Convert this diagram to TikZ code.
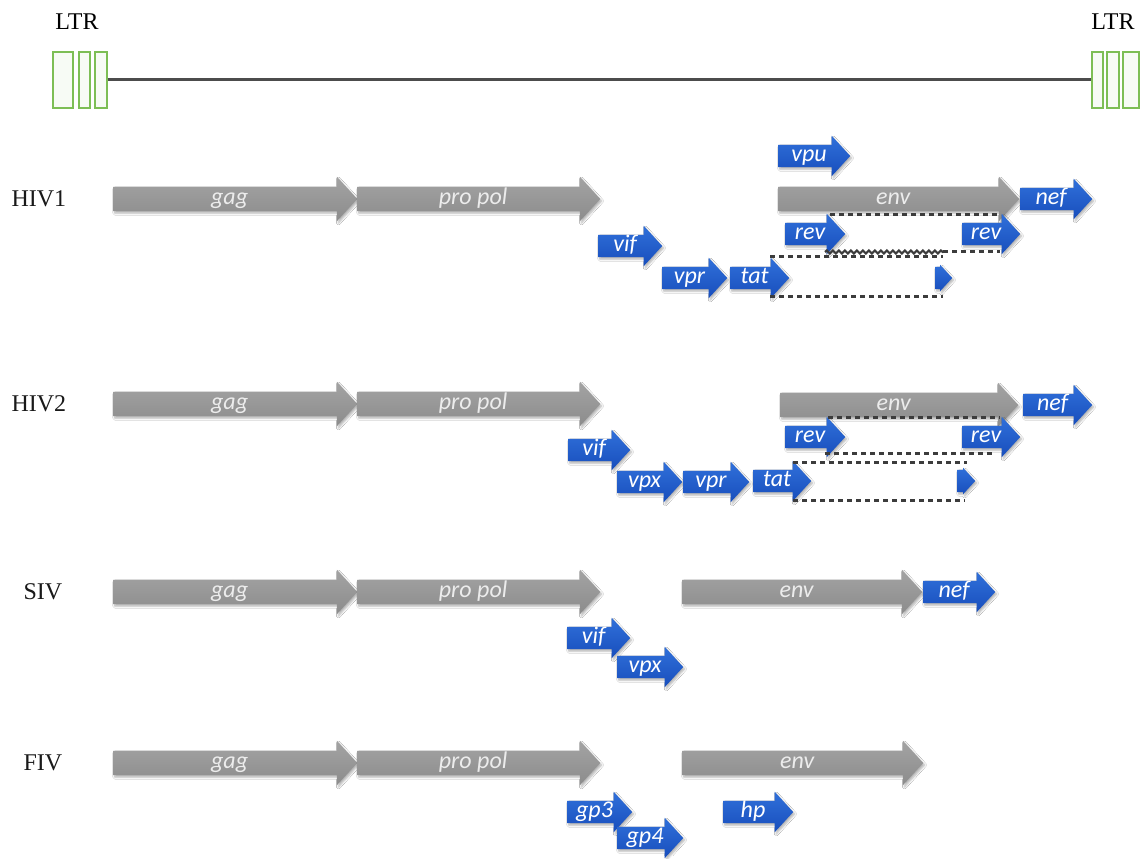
\documentclass[tikz,border=0pt]{standalone}
\usepackage{fontspec}
\setmainfont{Liberation Serif}
\newfontfamily\carlito{Carlito}
\usepackage{tikz}
\usetikzlibrary{shapes.arrows, shadows.blur, decorations.pathmorphing}
\definecolor{geneGrayTop}{RGB}{163,163,163}
\definecolor{geneGrayBot}{RGB}{140,140,140}
\definecolor{geneBlueTop}{RGB}{48,112,218}
\definecolor{geneBlueBot}{RGB}{24,78,188}
\definecolor{ltrGreen}{RGB}{125,190,85}
\definecolor{spliceInk}{RGB}{60,60,60}

\begin{document}
\begin{tikzpicture}[x=1pt,y=-1pt,
  gene/.style={single arrow,anchor=west,inner sep=0pt,
               single arrow head indent=0pt,single arrow tip angle=95,
               minimum width=0pt,minimum height=#1,
               font=\carlito\itshape\fontsize{24}{26}\selectfont,
               blur shadow={shadow blur steps=5,shadow xshift=1.5pt,
                            shadow yshift=-2pt,shadow opacity=30}},
  G/.style={gene=#1,text height=17.6pt,text depth=6.4pt,
            single arrow head extend=10pt,
            top color=geneGrayTop,bottom color=geneGrayBot,text=gray!15},
  B/.style={gene=#1,text height=16.6pt,text depth=5.4pt,
            single arrow head extend=9pt,
            top color=geneBlueTop,bottom color=geneBlueBot,text=white},
  Bx/.style={B=#1,single arrow head extend=2pt},
  ltr/.style={draw=ltrGreen,line width=1.2pt,fill=ltrGreen!6,
              minimum height=56pt,inner sep=0pt},
  splice/.style={draw=spliceInk,line width=3pt,dash pattern=on 5pt off 4pt},
  rowlab/.style={anchor=west,font=\fontsize{24}{26}\selectfont,text=black!90}]

\path[fill=white] (0,0) rectangle (1140,856);

% provirus with LTRs
\node[font=\fontsize{24}{26}\selectfont] (ltrL) at (77,22) {LTR};
\node[font=\fontsize{24}{26}\selectfont] (ltrR) at (1113,22) {LTR};
\node[ltr,minimum width=20pt] (l1) at (63,80) {};
\node[ltr,minimum width=11pt] (l2) at (84.5,80) {};
\node[ltr,minimum width=12pt] (l3) at (101,80) {};
\node[ltr,minimum width=11pt] (r1) at (1097.5,80) {};
\node[ltr,minimum width=12pt] (r2) at (1113,80) {};
\node[ltr,minimum width=16pt] (r3) at (1131,80) {};
\draw[gray!60!black,line width=3pt] (l3.east) -- (r1.west);

% HIV1
\node[rowlab] (hiv1) at (8,199) {HIV1};
\node[G=244] (gagA) at (113,199) {gag};
\node[G=243] (polA) at (357,199) {pro pol};
\node[B=72] (vpuA) at (778,156) {vpu};
\node[G=241] (envA) at (778,199) {env};
\node[B=72] (nefA) at (1020,199) {nef};
\node[B=60] (revAa) at (785,234) {rev};
\node[B=58] (revAb) at (962,234) {rev};
\node[B=64] (vifA) at (598,246) {vif};
\node[B=65] (vprA) at (662,278) {vpr};
\node[B=59] (tatA) at (730,278) {tat};
\node[Bx=17] (tatAb) at (935,278) {};

\coordinate (a1) at (830,215);  \coordinate (a2) at (1000,215);
\coordinate (a3) at (825,252);  \coordinate (a4) at (943,252);
\coordinate (a5) at (1000,252);
\coordinate (a6) at (770,257);  \coordinate (a7) at (943,257);
\coordinate (a8) at (770,297);  \coordinate (a9) at (943,297);
\draw[splice] (a1) -- (a2);
\draw[splice] (a6) -- (a7);
\draw[spliceInk,line width=2.2pt,decorate,
      decoration={snake,amplitude=1.5pt,segment length=6pt}] (a3) -- (a4);
\draw[splice] (a4) -- (a5);
\draw[splice] (a8) -- (a9);

% HIV2
\node[rowlab] (hiv2) at (8,404) {HIV2};
\node[G=244] (gagB) at (113,404) {gag};
\node[G=243] (polB) at (357,404) {pro pol};
\node[G=238] (envB) at (780,405) {env};
\node[B=69] (nefB) at (1023,405) {nef};
\node[B=60] (revBa) at (785,437) {rev};
\node[B=58] (revBb) at (962,437) {rev};
\node[B=62] (vifB) at (568,450) {vif};
\node[B=65] (vpxB) at (617,482) {vpx};
\node[B=66] (vprB) at (683,482) {vpr};
\node[B=58] (tatB) at (753,481) {tat};
\node[Bx=18] (tatBb) at (957,481) {};

\coordinate (b1) at (828,417);  \coordinate (b2) at (1000,417);
\coordinate (b3) at (825,453);  \coordinate (b4) at (992,453);
\coordinate (b5) at (793,462);  \coordinate (b6) at (967,462);
\coordinate (b7) at (793,500);  \coordinate (b8) at (965,500);
\draw[splice] (b1) -- (b2);
\draw[splice] (b3) -- (b4);
\draw[splice] (b5) -- (b6);
\draw[splice] (b7) -- (b8);

% SIV
\node[rowlab] (siv) at (20,592) {SIV};
\node[G=244] (gagC) at (113,592) {gag};
\node[G=243] (polC) at (357,592) {pro pol};
\node[G=240] (envC) at (682,592) {env};
\node[B=72] (nefC) at (923,592) {nef};
\node[B=63] (vifC) at (567,638) {vif};
\node[B=66] (vpxC) at (617,667) {vpx};

% FIV
\node[rowlab] (fiv) at (20,763) {FIV};
\node[G=244] (gagD) at (113,763) {gag};
\node[G=243] (polD) at (357,763) {pro pol};
\node[G=241] (envD) at (682,763) {env};
\node[B=65] (gp3D) at (567,812) {gp3};
\node[B=66] (gp4D) at (617,838) {gp4};
\node[B=70] (hpD) at (723,812) {hp};
\end{tikzpicture}
\end{document}
